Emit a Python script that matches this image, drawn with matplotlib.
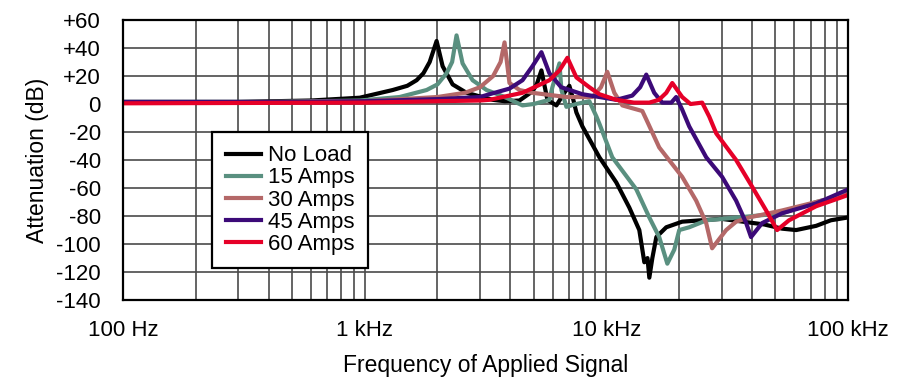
import numpy as np
import matplotlib.pyplot as plt
from matplotlib.ticker import FixedLocator, LogLocator, NullFormatter

plt.rcParams['font.family'] = ['Liberation Sans', 'DejaVu Sans']

# Values (frequency in Hz, attenuation in dB)
noload_f = [100, 300, 600, 954, 1306, 1500, 1640, 1750, 1857, 1984, 2101, 2311, 2638, 3379, 3800,
            4370, 4945, 5150, 5386, 5703, 6211, 6700, 7030, 7300, 7515, 7960, 9355, 10993, 12450,
            13690, 14360, 14800, 15060, 15500, 16100, 17700, 20600, 30000, 45000, 53400,
            61000, 73800, 85000, 100000]
noload_db = [1.5, 1.5, 2.5, 4.5, 10, 13, 17, 22, 30, 45, 27, 14, 8, 3, 2,
             2.5, 9, 14, 24, 3, -1, 8, 13, 3, -6, -16, -38, -56, -74,
             -90, -113, -110, -124, -110, -95, -88, -84, -82, -86, -89,
             -90, -87, -83, -81]

a15_f = [100, 400, 954, 1395, 1804, 2000, 2182, 2300, 2399, 2541, 2795, 3193, 3800, 4498, 5000,
         5810, 5980, 6395, 6518, 6834, 7500, 8504, 9100, 9355, 10580, 13310, 15060, 16550, 17880,
         19100, 20030, 22030, 26000, 35000, 53400, 73800, 100000]
a15_db = [1.5, 1.5, 2.5, 5, 10, 14, 22, 30, 49, 29, 17, 10, 5, -1, 0,
          3, 12, 29, 10, -2, 0, 2, -9, -14, -38, -61, -81, -95, -114,
          -104, -90, -88, -83, -81, -78, -70, -64]

a30_f = [100, 500, 1000, 2000, 2600, 3000, 3400, 3650, 3790, 3973, 4370, 4945, 6834, 8750,
         9500, 10090, 10790, 11650, 12800, 14090, 14630, 16550, 20600, 23540, 25890, 27400,
         31320, 34440, 38990, 53400, 73800, 100000]
a30_db = [1, 1.5, 2, 5, 8, 12, 20, 30, 44, 15, 10, 8, 5, 5,
          12, 23, 8, -1, -3, -5, -11, -31, -52, -69, -85, -103,
          -90, -84, -81, -76, -70, -64]

a45_f = [100, 500, 1000, 2000, 3000, 3285, 3973, 4498, 4945, 5386, 5810, 6500, 7960, 9355,
         10993, 12800, 13800, 14630, 15780, 17030, 18570, 19450, 20600, 22030, 25890, 30140,
         34440, 37900, 39700, 44130, 53400, 73800, 100000]
a45_db = [1.5, 1.5, 2, 3.5, 5, 7, 11, 17, 27, 37, 22, 12, 7, 5,
          3, 6, 12, 21, 8, 1, 1, 5, -4, -16, -38, -52,
          -69, -85, -95, -85, -78, -71, -61]

a60_f = [100, 1000, 2000, 3000, 3285, 4498, 5810, 6400, 6900, 7515, 8504, 9355, 10993, 13000,
         15060, 16500, 17700, 18740, 20600, 22300, 24920, 26660, 28500, 34440, 40100, 45840,
         50900, 57030, 73800, 100000]
a60_db = [0.5, 1, 2, 2.5, 3, 8, 17, 24, 33, 19, 12, 7, 3, 1,
          1, 3, 8, 15, 5, 0, 1, -9, -21, -40, -59, -76,
          -90, -83, -73, -65]

series = [
    ('No Load', noload_f, noload_db, '#000000'),
    ('15 Amps', a15_f, a15_db, '#5a9080'),
    ('30 Amps', a30_f, a30_db, '#b46868'),
    ('45 Amps', a45_f, a45_db, '#3c0a78'),
    ('60 Amps', a60_f, a60_db, '#e60028'),
]

yticks = [60, 40, 20, 0, -20, -40, -60, -80, -100, -120, -140]
ytick_labels = ['+60', '+40', '+20', '0', '-20', '-40', '-60', '-80', '-100', '-120', '-140']
xticks = [100, 1000, 10000, 100000]
xtick_labels = ['100 Hz', '1 kHz', '10 kHz', '100 kHz']

fig = plt.figure(figsize=(9.05, 3.77), dpi=100)
ax = fig.add_axes([0.136, 0.204, 0.801, 0.743])

for name, f, db, c in series:
    ax.plot(f, db, color=c, lw=3.0, label=name, solid_joinstyle='round')

ax.set_xscale('log')
ax.set_xlim(100, 100000)
ax.set_ylim(-140, 60)
ax.xaxis.set_major_locator(FixedLocator(xticks))
ax.set_xticklabels(xtick_labels)
ax.xaxis.set_minor_locator(LogLocator(base=10, subs=np.arange(2, 10)))
ax.xaxis.set_minor_formatter(NullFormatter())
ax.set_yticks(yticks)
ax.set_yticklabels(ytick_labels)

ax.grid(True, which='both', color='#4a4a4a', lw=1.2)
ax.set_axisbelow(True)
ax.tick_params(which='both', length=0, labelsize=16)
ax.tick_params(axis='y', pad=16)
ax.tick_params(axis='x', pad=14)
for s in ax.spines.values():
    s.set_linewidth(1.6)
    s.set_color('black')

ax.set_ylabel('Attenuation (dB)', fontsize=16.5, labelpad=5)
ax.set_xlabel('Frequency of Applied Signal', fontsize=16.5, labelpad=10)

leg = ax.legend(loc='lower left', bbox_to_anchor=(0.123, 0.114), fontsize=16,
                handlelength=1.6, handletextpad=0.3, labelspacing=0.05,
                borderpad=0.6, fancybox=False, framealpha=1, borderaxespad=0)
leg.get_frame().set_edgecolor('black')
leg.get_frame().set_linewidth(1.6)

fig.savefig('out.png', dpi=100)
